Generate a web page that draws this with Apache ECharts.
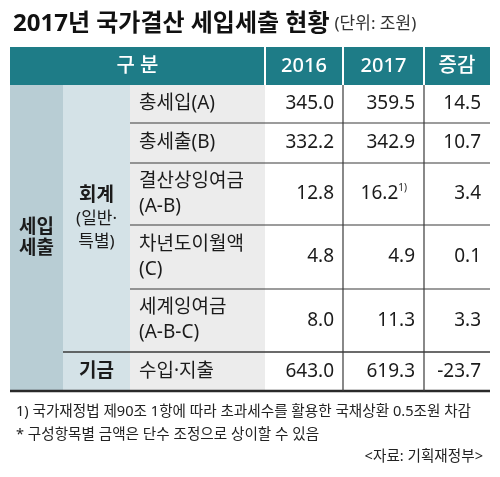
<!DOCTYPE html>
<html>
<head>
<meta charset="utf-8">
<script src="https://cdn.jsdelivr.net/npm/echarts/dist/echarts.min.js"></script>
<style>
  html, body { margin: 0; padding: 0; background: #fff; }
  #main { width: 500px; height: 477px; }
</style>
</head>
<body>
<div id="main"></div>
<script>
// 2017년 국가결산 세입세출 현황 (단위: 조원)
const headers = ['구 분', '2016', '2017', '증감'];
const groupLabel = '세입\n세출';
const subGroups = ['회계', '(일반·\n특별)', '기금'];
const items = ['총세입(A)', '총세출(B)', '결산상잉여금\n(A-B)', '차년도이월액\n(C)', '세계잉여금\n(A-B-C)', '수입·지출'];
const values2016 = [345.0, 332.2, 12.8, 4.8, 8.0, 643.0];
const values2017 = [359.5, 342.9, 16.2, 4.9, 11.3, 619.3];
const changes = [14.5, 10.7, 3.4, 0.1, 3.3, -23.7];
const footnoteIndex = 2; // 16.2 에 각주 1)
const notes = [
  '1) 국가재정법 제90조 1항에 따라 초과세수를 활용한 국채상환 0.5조원 차감',
  '* 구성항목별 금액은 단수 조정으로 상이할 수 있음'
];
const source = '<자료: 기획재정부>';

// Latin first so digits and the middle dot stay narrow, hangul falls back to CJK
const FONT = '"Noto Sans", "Noto Sans CJK KR", sans-serif';
const TEAL = '#1e7c87';
const TXT = '#1b1b1b';

// table layout (axis units)
const colEdges = [0, 53, 120, 255, 333, 414, 480];
const rowEdges = [0, 38, 76, 116, 178, 242, 305, 344];

const cells = [];
cells.push({ c: [0, 3], r: [0, 1], fill: TEAL, text: headers[0], align: 'center', color: '#fff', size: 20, w: 500 });
for (let i = 1; i < headers.length; i++) {
  cells.push({ c: [i + 2, i + 3], r: [0, 1], fill: TEAL, text: headers[i], align: 'center', color: '#fff', size: 20, w: 500 });
}
cells.push({ c: [0, 1], r: [1, 7], fill: '#b8cdd4', text: groupLabel, align: 'center', w: 'bold', size: 19, lh: 21 });
cells.push({
  c: [1, 2], r: [1, 6], fill: '#d4e2e7', align: 'center',
  text: '{b|' + subGroups[0] + '}\n{n|' + subGroups[1].split('\n').join('}\n{n|') + '}',
  rich: {
    b: { fontFamily: FONT, fontWeight: 'bold', fontSize: 19, lineHeight: 24, fill: TXT },
    n: { fontFamily: FONT, fontSize: 17, lineHeight: 23, fill: TXT }
  }
});
cells.push({ c: [1, 2], r: [6, 7], fill: '#d4e2e7', text: subGroups[2], align: 'center', w: 'bold', size: 19 });
items.forEach((name, i) => {
  const r = [i + 1, i + 2];
  cells.push({ c: [2, 3], r, fill: '#ececec', text: name, align: 'left', size: 19, lh: 25 });
  cells.push({ c: [3, 4], r, fill: '#fff', text: values2016[i].toFixed(1), align: 'right', size: 19 });
  if (i === footnoteIndex) {
    cells.push({
      c: [4, 5], r, fill: '#fff', align: 'right', pad: 17,
      text: '{v|' + values2017[i].toFixed(1) + '}{s|1)}',
      rich: {
        v: { fontFamily: FONT, fontSize: 19, lineHeight: 22, fill: TXT },
        s: { fontFamily: FONT, fontSize: 10, lineHeight: 10, verticalAlign: 'top', fill: TXT }
      }
    });
  } else {
    cells.push({ c: [4, 5], r, fill: '#fff', text: values2017[i].toFixed(1), align: 'right', size: 19 });
  }
  cells.push({ c: [5, 6], r, fill: '#fff', text: changes[i].toFixed(1), align: 'right', size: 19 });
});

// rule lines: [x0, y0, x1, y1, color, width]
const rules = [];
for (let r = 2; r <= 5; r++) rules.push([colEdges[2], rowEdges[r], colEdges[6], rowEdges[r], '#3a3a3a', 1.2]);
rules.push([colEdges[1], rowEdges[6], colEdges[6], rowEdges[6], '#3a3a3a', 1.5]);
rules.push([colEdges[0], rowEdges[7], colEdges[6], rowEdges[7], '#2a2a2a', 2.5]);
[4, 5].forEach(c => rules.push([colEdges[c], rowEdges[1], colEdges[c], rowEdges[7], '#3a3a3a', 1.2]));
[3, 4, 5].forEach(c => rules.push([colEdges[c], rowEdges[0], colEdges[c], rowEdges[1], '#fff', 2]));

const chart = echarts.init(document.getElementById('main'));

const noteStyle = { fontFamily: FONT, fontSize: 14.6, fontWeight: 'normal', color: '#222' };

chart.setOption({
  animation: false,
  backgroundColor: '#fff',
  title: [
    {
      left: 8, top: 7,
      text: '{a|2017년 국가결산 세입세출 현황} {b|(단위: 조원)}',
      textStyle: {
        rich: {
          a: { fontFamily: FONT, fontWeight: 'bold', fontSize: 24, color: '#111' },
          b: { fontFamily: FONT, fontWeight: 'normal', fontSize: 17, color: '#333' }
        }
      }
    },
    { left: 11, top: 400, text: notes[0], textStyle: noteStyle },
    { left: 11, top: 423, text: notes[1], textStyle: noteStyle },
    { right: 12, top: 445, text: source, textStyle: noteStyle }
  ],
  grid: { left: 10, top: 47, width: 480, height: 344 },
  xAxis: { type: 'value', min: 0, max: 480, show: false },
  yAxis: { type: 'value', min: 0, max: 344, inverse: true, show: false },
  series: [
    {
      type: 'custom',
      silent: true,
      data: cells.map(c => [colEdges[c.c[0]], colEdges[c.c[1]], rowEdges[c.r[0]], rowEdges[c.r[1]]]),
      renderItem: (params, api) => {
        const cell = cells[params.dataIndex];
        const p0 = api.coord([api.value(0), api.value(2)]);
        const p1 = api.coord([api.value(1), api.value(3)]);
        const pad = cell.pad || 9;
        let tx = (p0[0] + p1[0]) / 2;
        if (cell.align === 'left') tx = p0[0] + pad;
        if (cell.align === 'right') tx = p1[0] - pad;
        const style = {
          x: tx, y: (p0[1] + p1[1]) / 2,
          text: cell.text, align: cell.align, verticalAlign: 'middle'
        };
        if (cell.rich) {
          style.rich = cell.rich;
        } else {
          style.fontFamily = FONT;
          style.fontSize = cell.size;
          style.fontWeight = cell.w || 'normal';
          style.lineHeight = cell.lh || cell.size + 4;
          style.fill = cell.color || TXT;
        }
        return {
          type: 'group',
          children: [
            { type: 'rect', shape: { x: p0[0], y: p0[1], width: p1[0] - p0[0], height: p1[1] - p0[1] }, style: { fill: cell.fill } },
            { type: 'text', style }
          ]
        };
      },
      z: 1
    },
    {
      type: 'custom',
      silent: true,
      data: rules.map(l => l.slice(0, 4)),
      renderItem: (params, api) => {
        const l = rules[params.dataIndex];
        const a = api.coord([api.value(0), api.value(1)]);
        const b = api.coord([api.value(2), api.value(3)]);
        return {
          type: 'line',
          shape: { x1: a[0], y1: a[1], x2: b[0], y2: b[1] },
          style: { stroke: l[4], lineWidth: l[5] }
        };
      },
      z: 2
    }
  ]
});
</script>
</body>
</html>
